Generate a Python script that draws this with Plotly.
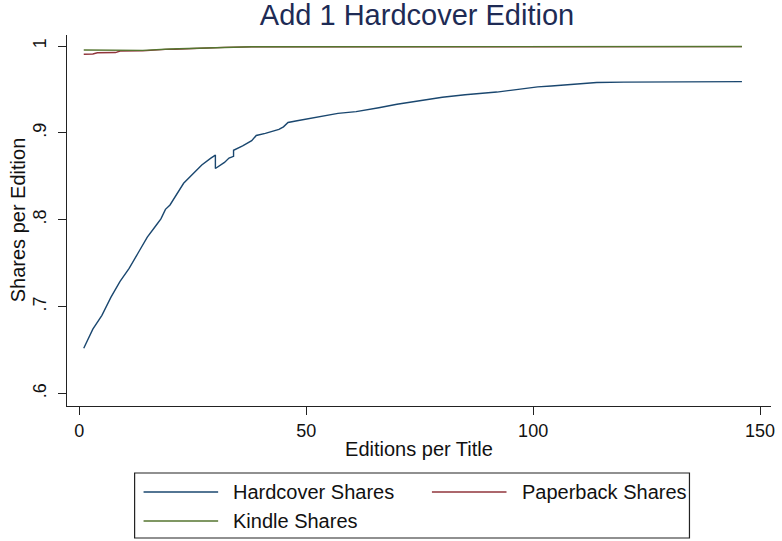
import plotly.graph_objects as go

# Share of demand kept by each edition type as editions per title grow
hardcover_x = [1, 2, 3, 5, 7, 9, 11, 13, 15, 17, 18, 19, 20, 23, 25, 27, 29, 30, 30,
               32, 33, 34, 34, 36, 38, 39, 41, 44, 45, 46, 48, 51, 54, 57, 61, 64,
               66, 70, 75, 80, 85, 90, 92, 95, 98, 101, 104, 109, 114, 120, 131, 146]
hardcover_y = [0.652, 0.664, 0.674, 0.690, 0.711, 0.729, 0.744, 0.762, 0.780, 0.794,
               0.801, 0.812, 0.817, 0.842, 0.853, 0.863, 0.871, 0.8745, 0.859,
               0.866, 0.871, 0.873, 0.880, 0.885, 0.891, 0.897, 0.8995, 0.904,
               0.907, 0.912, 0.914, 0.917, 0.920, 0.9225, 0.9245, 0.927, 0.929,
               0.933, 0.937, 0.941, 0.944, 0.946, 0.947, 0.949, 0.951, 0.953,
               0.954, 0.956, 0.958, 0.9585, 0.959, 0.959]

paperback_x = [1, 3, 4, 8, 9, 14, 19, 21, 32, 36, 38, 146]
paperback_y = [0.9905, 0.9908, 0.9923, 0.9925, 0.9942, 0.9944, 0.9962, 0.9963,
               0.9985, 0.9987, 0.9990, 0.9993]

kindle_x = [1, 14, 20, 38, 146]
kindle_y = [0.9954, 0.9950, 0.9966, 0.9992, 0.9994]

x_ticks = [0, 50, 100, 150]
y_ticks = [0.6, 0.7, 0.8, 0.9, 1.0]
y_tick_text = [".6", ".7", ".8", ".9", "1"]

series_names = ["Hardcover Shares", "Paperback Shares", "Kindle Shares"]
series_colors = ["#1a476f", "#90353b", "#55752f"]

FONT = "Liberation Sans, Arial, sans-serif"
W, H = 782, 541
L, R, T, B = 67, 7, 35, 135

fig = go.Figure()
for xs, ys, name, col in zip([hardcover_x, paperback_x, kindle_x],
                             [hardcover_y, paperback_y, kindle_y],
                             series_names, series_colors):
    fig.add_trace(go.Scatter(x=xs, y=ys, mode="lines", name=name,
                             line=dict(color=col, width=1.4), showlegend=False))

# pixel -> paper helpers for the boxed legend under the plot
pw, ph = W - L - R, H - T - B


def px(xp):
    return (xp - L) / pw


def py(yp):
    return (H - B - yp) / ph


shapes = [dict(type="rect", xref="paper", yref="paper",
               x0=px(135), x1=px(693), y0=py(473), y1=py(538),
               line=dict(color="#222222", width=1.2), fillcolor="white")]
annotations = []
entries = [(0, 144, 232, 492), (1, 434, 523, 492), (2, 144, 232, 521)]
for idx, lx, tx, ly in entries:
    shapes.append(dict(type="line", xref="paper", yref="paper",
                       x0=px(lx), x1=px(lx + 75), y0=py(ly), y1=py(ly),
                       line=dict(color=series_colors[idx], width=1.4)))
    annotations.append(dict(xref="paper", yref="paper", x=px(tx), y=py(ly),
                            text=series_names[idx], showarrow=False,
                            xanchor="left", yanchor="middle",
                            font=dict(family=FONT, size=20, color="#111111")))

# vertical y-axis title
annotations.append(dict(xref="paper", yref="paper", x=px(18), y=py(220),
                        text="Shares per Edition", showarrow=False, textangle=-90,
                        xanchor="center", yanchor="middle",
                        font=dict(family=FONT, size=20, color="#111111")))

fig.update_layout(
    width=W, height=H,
    margin=dict(l=L, r=R, t=T, b=B, pad=0),
    paper_bgcolor="white", plot_bgcolor="white",
    title=dict(text="Add 1 Hardcover Edition", xref="paper", x=px(419),
               xanchor="center", y=1 - 15 / H, yanchor="middle",
               font=dict(family=FONT, size=29, color="#1e2b55")),
    font=dict(family=FONT, color="#111111"),
    shapes=shapes, annotations=annotations,
    xaxis=dict(range=[-2.69, 152.4], tickvals=x_ticks, ticks="outside",
               ticklen=8, tickcolor="#222222", tickwidth=1.2,
               showline=True, linecolor="#222222", linewidth=1.2,
               showgrid=False, zeroline=False,
               tickfont=dict(family=FONT, size=18, color="#111111"),
               title=dict(text="Editions per Title", standoff=2,
                          font=dict(family=FONT, size=20, color="#111111"))),
    yaxis=dict(range=[0.5856, 1.0127], tickvals=y_ticks, ticktext=y_tick_text,
               tickangle=-90, ticks="outside", ticklen=8,
               tickcolor="#222222", tickwidth=1.2, ticklabelstandoff=5,
               showline=True, linecolor="#222222", linewidth=1.2,
               showgrid=False, zeroline=False,
               tickfont=dict(family=FONT, size=18, color="#111111")),
)

fig.write_html("out.html")
